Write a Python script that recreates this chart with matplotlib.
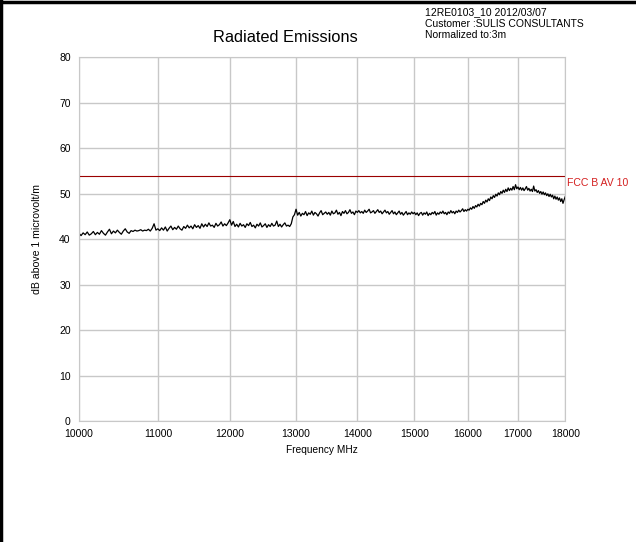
import numpy as np
import matplotlib.pyplot as plt
from matplotlib.lines import Line2D
from matplotlib.ticker import FixedLocator, NullLocator

plt.rcParams["font.family"] = ["Liberation Sans", "DejaVu Sans"]

FREQ_START, FREQ_STOP, FREQ_STEP = 10000, 18000, 25
LEVEL = [
    # 10000 - 11000
    41.3, 40.8, 41.4, 41.0, 41.6, 40.9, 41.2, 41.7, 41.0, 41.5,
    41.1, 41.9, 41.3, 40.9, 41.6, 42.2, 41.2, 41.8, 41.4, 42.0,
    41.5, 41.1, 41.8, 42.3, 41.6, 41.3, 41.9, 41.7, 42.0, 41.8,
    41.9, 42.1, 41.8, 42.0, 41.9, 42.2, 41.8, 42.4, 43.4, 42.0,
    42.3,
    # 11025 - 12000
    41.9, 42.5, 42.0, 42.7, 41.8, 42.4, 42.9, 42.1, 42.6, 42.2,
    42.9, 42.3, 42.0, 42.8, 42.4, 43.1, 42.5, 42.9, 42.3, 43.2,
    42.6, 43.0, 42.4, 43.4, 42.7, 43.3, 42.8, 43.6, 42.9, 43.1,
    42.6, 43.5, 42.9, 43.2, 43.8, 42.9, 43.4, 43.0, 43.6, 44.3,
    # 12025 - 12900
    43.1, 43.9, 42.8, 43.3, 42.7, 43.5, 42.9, 43.2, 42.6, 43.4,
    43.0, 43.7, 42.8, 43.1, 42.5, 43.3, 42.9, 43.6, 42.7, 43.0,
    43.4, 42.6, 43.2, 42.8, 43.5, 42.9, 43.1, 44.0, 42.8, 43.3,
    42.7, 43.2, 43.6, 42.9, 43.1, 42.8,
    # 12925 - 13000 (step up)
    43.4, 44.9, 45.4, 46.6,
    # 13025 - 14000
    45.3, 45.9, 45.1, 45.7, 45.4, 46.1, 45.2, 45.8, 45.5, 46.2,
    45.3, 45.9, 45.6, 45.1, 45.8, 46.3, 45.4, 45.7, 46.0, 45.5,
    45.9, 45.3, 46.2, 45.6, 45.8, 46.4, 45.5, 45.9, 45.2, 46.1,
    45.7, 46.3, 45.6, 45.9, 46.5, 45.7, 46.0, 45.4, 46.2, 45.9,
    # 14025 - 15000
    46.3, 45.8, 46.1, 45.7, 46.4, 45.9, 46.2, 46.6, 45.8, 46.0,
    46.3, 45.7, 46.1, 46.5, 45.9, 46.2, 45.6, 46.0, 46.4, 45.8,
    46.1, 45.5, 45.9, 46.3, 45.6, 46.0, 45.4, 45.8, 46.2, 45.5,
    45.9, 45.3, 45.7, 46.1, 45.4, 45.8, 45.5, 46.0, 45.6, 45.9,
    # 15025 - 16000
    45.4, 45.8, 45.2, 45.7, 45.9, 45.3, 45.8, 45.5, 46.0, 45.2,
    45.7, 45.4, 45.9, 45.6, 46.1, 45.3, 45.8, 45.5, 46.0, 45.7,
    46.2, 45.6, 45.9, 45.4, 46.0, 45.7, 46.3, 45.8, 46.1, 45.6,
    46.2, 45.9, 46.4, 46.0, 46.3, 46.7, 46.1, 46.5, 46.2, 46.6,
    # 16025 - 17000
    46.4, 46.9, 46.6, 47.2, 46.8, 47.4, 47.1, 47.7, 47.3, 47.9,
    47.6, 48.3, 47.9, 48.6, 48.2, 48.9, 48.5, 49.3, 48.9, 49.6,
    49.2, 49.9, 49.5, 50.2, 49.8, 50.5, 50.1, 50.8, 50.3, 51.0,
    50.5, 51.3, 50.7, 51.2, 50.8, 51.6, 50.9, 52.0, 51.1, 51.5,
    # 17025 - 18000
    50.9, 51.4, 50.8, 51.3, 50.7, 51.1, 51.6, 50.8, 51.2, 50.6,
    51.0, 50.5, 51.7, 50.6, 50.9, 50.3, 50.7, 50.1, 50.5, 49.9,
    50.4, 49.8, 50.2, 49.6, 50.0, 49.4, 49.9, 49.3, 49.7, 48.9,
    49.5, 48.8, 49.3, 48.6, 49.1, 48.3, 48.9, 47.9, 48.7, 49.4,
]
FREQ = np.arange(FREQ_START, FREQ_STOP + 1, FREQ_STEP)

LIMIT_LABEL = "FCC B AV 10"
LIMIT_LEVEL = 54

X_TICKS = [10000, 11000, 12000, 13000, 14000, 15000, 16000, 17000, 18000]
Y_TICKS = [0, 10, 20, 30, 40, 50, 60, 70, 80]

INFO = "12RE0103_10 2012/03/07\nCustomer :SULIS CONSULTANTS\nNormalized to:3m"

GRID = "#c8c8c8"

fig = plt.figure(figsize=(6.36, 5.42), dpi=100)
ax = fig.add_axes([0.1242, 0.2232, 0.8888 - 0.1242, 0.894 - 0.2232])

ax.plot(FREQ, LEVEL, color="black", lw=0.9)
ax.axhline(LIMIT_LEVEL, color="#9b0000", lw=0.8)
ax.text(FREQ_STOP * 1.002, LIMIT_LEVEL - 0.6, LIMIT_LABEL, color="#d42020",
        fontsize=7.6, ha="left", va="top", clip_on=False)

ax.set_xscale("log")
ax.set_xlim(X_TICKS[0], X_TICKS[-1])
ax.set_ylim(Y_TICKS[0], Y_TICKS[-1])
ax.xaxis.set_major_locator(FixedLocator(X_TICKS))
ax.xaxis.set_minor_locator(NullLocator())
ax.set_xticklabels([str(t) for t in X_TICKS])
ax.set_yticks(Y_TICKS)
ax.tick_params(length=0, labelsize=7.5, pad=6)
ax.grid(True, color=GRID, lw=1)
ax.set_axisbelow(True)
for s in ax.spines.values():
    s.set_color(GRID)

ax.set_xlabel("Frequency MHz", fontsize=7.3, labelpad=4)
ax.set_ylabel("dB above 1 microvolt/m", fontsize=7.6, labelpad=12)

fig.text(0.449, 0.930, "Radiated Emissions", fontsize=11.8, ha="center", va="center")
fig.text(0.668, 0.987, INFO, fontsize=7.5, ha="left", va="top", linespacing=1.2)

# frame on the top and left edges
fig.add_artist(Line2D([0, 1], [0.997, 0.997], color="black", lw=2.5,
                      transform=fig.transFigure))
fig.add_artist(Line2D([0.002, 0.002], [0, 1], color="black", lw=2.5,
                      transform=fig.transFigure))

fig.savefig("out.png", dpi=100, facecolor="white")
